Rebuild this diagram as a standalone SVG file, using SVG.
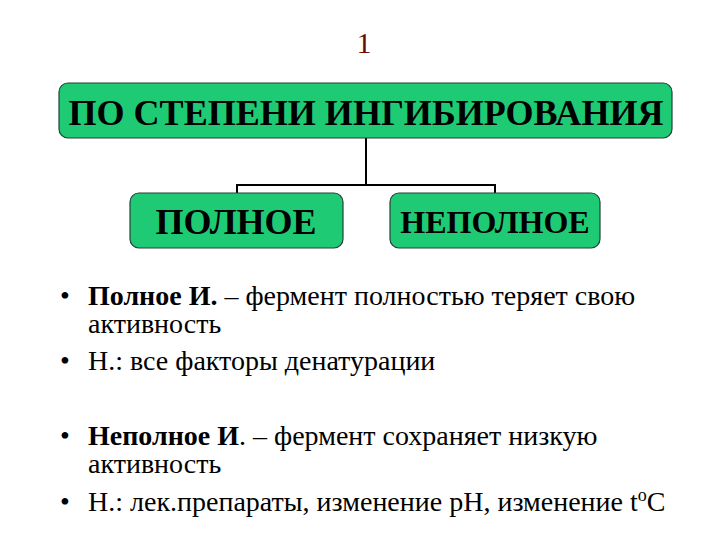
<svg xmlns="http://www.w3.org/2000/svg" width="720" height="540" viewBox="0 0 720 540">
<style>
.box{fill:#1ECB74;stroke:#24403A;stroke-width:1.2}
.conn{fill:none;stroke:#000;stroke-width:2}
.bt{font-family:'Liberation Serif','DejaVu Serif',serif;font-weight:bold;fill:#000;text-anchor:middle}
.tx{font-family:'Liberation Serif','DejaVu Serif',serif;font-size:28px;fill:#000}
.b{font-weight:bold}
</style>
<rect width="720" height="540" fill="#fff"/>
<text x="364" y="53" font-family="'Liberation Serif','DejaVu Serif',serif" font-size="30" fill="#6E0A0A" text-anchor="middle">1</text>
<g id="connectors">
<path class="conn" d="M366,138 V185 M237,193 V185 H495 V193"/>
</g>
<g id="node-root">
<rect class="box" x="59" y="83" width="613" height="55" rx="9"/>
<text class="bt" x="366" y="125" font-size="36" textLength="595" lengthAdjust="spacingAndGlyphs">ПО СТЕПЕНИ ИНГИБИРОВАНИЯ</text>
</g>
<g id="node-full">
<rect class="box" x="130" y="193" width="213" height="55" rx="9"/>
<text class="bt" x="236" y="234" font-size="36">ПОЛНОЕ</text>
</g>
<g id="node-partial">
<rect class="box" x="390" y="193" width="210" height="55" rx="9"/>
<text class="bt" x="495" y="233" font-size="32">НЕПОЛНОЕ</text>
</g>
<g id="bullets">
<text class="tx" x="60" y="305">•</text>
<text class="tx" x="88" y="305"><tspan class="b">Полное И.</tspan> – фермент полностью теряет свою</text>
<text class="tx" x="88" y="333">активность</text>
<text class="tx" x="60" y="370">•</text>
<text class="tx" x="88" y="370">Н.: все факторы денатурации</text>
<text class="tx" x="60" y="445">•</text>
<text class="tx" x="88" y="445"><tspan class="b">Неполное И</tspan>. – фермент сохраняет низкую</text>
<text class="tx" x="88" y="473">активность</text>
<text class="tx" x="60" y="511">•</text>
<text class="tx" x="88" y="511">Н.: лек.препараты, изменение pH, изменение t<tspan font-size="18" dy="-10">o</tspan><tspan dy="10">C</tspan></text>
</g>
</svg>
